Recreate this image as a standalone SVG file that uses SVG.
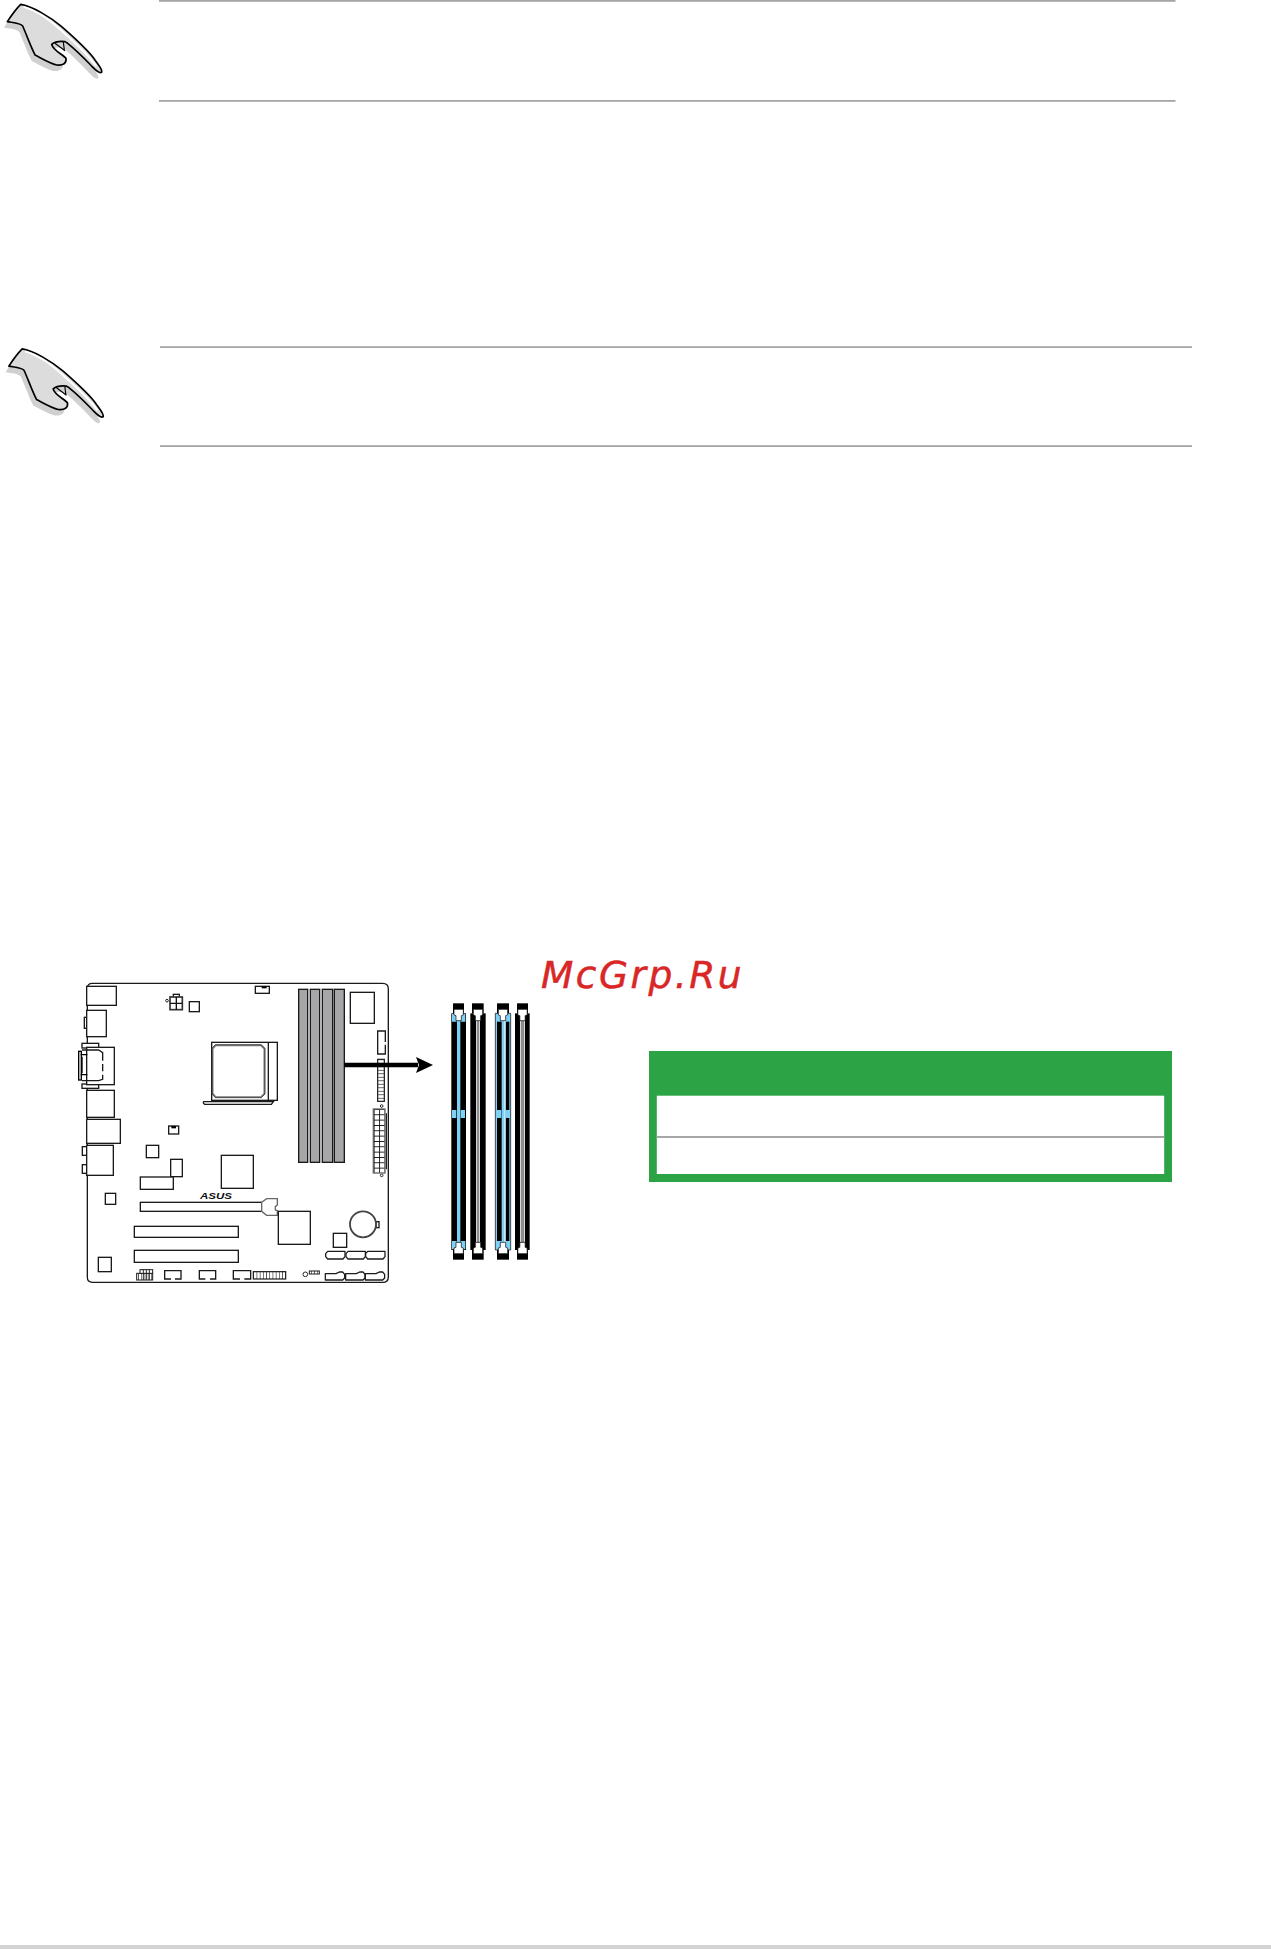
<svg xmlns="http://www.w3.org/2000/svg" xmlns:xlink="http://www.w3.org/1999/xlink" width="1271" height="1949" viewBox="0 0 1271 1949">
<style>
.rule{fill:#a6a6a8}
.p{fill:#fff;stroke:#1a1a1a;stroke-width:4}
.n{fill:none;stroke:#1a1a1a;stroke-width:4}
.thin{fill:none;stroke:#1a1a1a;stroke-width:2.8}
.g{fill:#a6a6a8;stroke:#1a1a1a;stroke-width:4}
.b{fill:#000}
.blue{fill:#7fd0f5}
.grey{fill:#8c8c8c}
.w{fill:#fff}
.hs{fill:#d0d0d0}
.hf{fill:#dcdcdc;stroke:#000;stroke-width:5;stroke-linejoin:round}
.hl{fill:none;stroke:#000;stroke-width:3.5}
.hw{fill:none;stroke:#fff;stroke-width:6}
.sata{fill:#fff;stroke:#1a1a1a;stroke-width:3.8;stroke-linejoin:round}
</style>
<defs>
<path id="handp" d="M22 65C35 45 50 25 62 13C95 18 150 50 185 80C225 115 265 150 285 180C297 197 308 208 305 217C297 222 285 208 272 195C250 172 228 150 203 130L195 125C180 123 165 125 155 133C158 150 190 165 198 175C200 190 190 197 170 195C150 190 125 175 105 165C90 135 80 105 68 78C60 68 40 68 22 65Z"/>
<g id="hand" transform="scale(.3333)">
<use xlink:href="#handp" href="#handp" class="hs" transform="translate(-10 18)"/>
<use xlink:href="#handp" href="#handp" class="hf"/>
<path class="hw" d="M70 20C110 32 150 60 185 92C225 128 262 160 288 198"/>
<path class="hl" d="M165 130L195 152M190 126L193 150"/>
</g>
<pattern id="ladV" width="20" height="10.5" patternUnits="userSpaceOnUse" y="298">
<rect width="20" height="10.5" fill="#fff"/><path d="M0 0H20" stroke="#1a1a1a" stroke-width="4"/>
</pattern>
<pattern id="ladH" width="9.6" height="30" patternUnits="userSpaceOnUse" x="580">
<rect width="9.6" height="30" fill="#fff"/><path d="M0 0V30" stroke="#1a1a1a" stroke-width="3.6"/>
</pattern>
<pattern id="atx" width="16.5" height="16" patternUnits="userSpaceOnUse" x="941" y="447">
<rect width="16.5" height="16" fill="#fff"/><path d="M0 0H16.5M0 0V16" stroke="#111" stroke-width="5.5"/>
</pattern>
<g id="clip"><path d="M-14 18H14V35L8 37V52H-8V37L-14 35Z" fill="#fff" stroke="#000" stroke-width="2"/></g>
<g id="sataA"><path class="sata" d="M6 0H58V16L52 23H6L0 16V7Z"/></g>
<g id="sataB"><path class="sata" d="M0 5H32L42 0H52L58 7V18L52 24H0Z"/></g>
</defs>

<rect id="footer-band" x="0" y="1945" width="1271" height="4" fill="#d4d4d4"/>

<g id="note-1">
<use xlink:href="#hand" href="#hand"/>
<rect class="rule" x="159" y="0" width="1016.500" height="1.800"/>
<rect class="rule" x="159" y="100" width="1016.500" height="1.800"/>
</g>
<g id="note-2">
<use xlink:href="#hand" href="#hand" transform="translate(1.500 344.500)"/>
<rect class="rule" x="160" y="346.200" width="1032" height="1.800"/>
<rect class="rule" x="160" y="445.200" width="1032" height="1.800"/>
</g>

<g id="motherboard" transform="translate(60 960) scale(.33333)">
<path class="n" d="M97 70H968Q985 70 985 87V950Q985 967 968 967H97Q82 967 82 952V85Q82 70 97 70Z" fill="#fff"/>
<g id="io-ports">
<rect class="p" x="80" y="79" width="89" height="57"/>
<rect class="p" x="73" y="172" width="8" height="33"/>
<rect class="p" x="80" y="151" width="59" height="79"/>
<rect class="p" x="66" y="250" width="50" height="14"/>
<rect class="p" x="66" y="372" width="50" height="13"/>
<rect class="p" x="80" y="262" width="83" height="112"/>
<path class="n" d="M66 270H116L128 278V302M128 312V334M128 344V358L116 362H66"/>
<rect x="56" y="274" width="8" height="86" fill="#fff" stroke="#000" stroke-width="4"/>
<path d="M62 284H82M62 344H82M66 290V340" fill="none" stroke="#000" stroke-width="4"/>
<rect class="p" x="80" y="391" width="83" height="81"/>
<rect class="p" x="80" y="478" width="101" height="72"/>
<rect class="p" x="67" y="560" width="14" height="26"/>
<rect class="p" x="67" y="614" width="14" height="26"/>
<rect class="p" x="80" y="556" width="80" height="90"/>
</g>
<g id="top-parts">
<rect class="p" x="586" y="79" width="42" height="21"/>
<rect class="b" x="605" y="79" width="15" height="6"/>
<circle class="thin" cx="321" cy="122" r="4"/>
<rect class="p" x="340" y="103" width="18" height="10"/>
<rect x="330" y="111" width="37" height="38" fill="#fff" stroke="#333" stroke-width="5"/>
<path d="M349 111V149M330 130H367" stroke="#111" stroke-width="4"/>
<rect class="p" x="388" y="125" width="30" height="30"/>
</g>
<g id="cpu-socket">
<path class="p" d="M431 425H640L634 433H434Q428 429 431 425Z"/>
<rect class="p" x="455" y="247" width="197" height="174"/>
<path class="n" d="M625 247V421"/>
<path d="M467 256H603L613 266V401L603 411H467L458 401V266Z" fill="#fff" stroke="#777" stroke-width="5"/>
<path d="M466 254H604L615 265V402L604 413H466L456 402V265Z" fill="none" stroke="#111" stroke-width="1.800"/>
</g>
<g id="dimm-slots">
<rect class="g" x="716" y="88" width="27" height="519"/>
<rect class="g" x="751" y="88" width="28" height="519"/>
<rect class="g" x="787" y="88" width="31" height="519"/>
<rect class="g" x="823" y="88" width="30" height="519"/>
</g>
<g id="right-parts">
<rect class="p" x="871" y="97" width="72" height="93"/>
<path class="n" d="M976 246V213H953V282H976V254"/>
<rect x="953" y="298" width="20" height="126" fill="url(#ladV)" stroke="#1a1a1a" stroke-width="3.600"/>
<circle class="thin" cx="965" cy="438" r="4"/>
<circle class="thin" cx="965" cy="646" r="4"/>
<path d="M979 460V628" stroke="#222" stroke-width="4"/>
<rect x="940" y="447" width="35" height="192" fill="url(#atx)" stroke="#666" stroke-width="4"/>
</g>
<g id="mid-parts">
<rect class="p" x="326" y="498" width="30" height="24"/>
<rect class="b" x="334" y="498" width="14" height="7"/>
<rect class="p" x="259" y="556" width="37" height="37"/>
<rect class="p" x="332" y="598" width="35" height="52"/>
<rect class="p" x="241" y="651" width="99" height="37"/>
<rect class="p" x="484" y="586" width="96" height="99"/>
<rect class="p" x="136" y="700" width="31" height="33"/>
</g>
<text id="logo" x="420" y="717" font-family="'Liberation Sans',Arial,sans-serif" font-size="27" font-weight="700" font-style="italic" textLength="96" lengthAdjust="spacingAndGlyphs" fill="#111">ASUS</text>
<g id="expansion-slots">
<rect class="p" x="241" y="727" width="364" height="27"/>
<path d="M605 727L620 716H652V735L646 740V750L652 752V766H620L605 754Z" fill="#fff" stroke="#666" stroke-width="4"/>
<rect class="p" x="223" y="799" width="312" height="33"/>
<rect class="p" x="223" y="871" width="312" height="36"/>
</g>
<g id="lower-parts">
<rect class="p" x="655" y="754" width="96" height="99"/>
<rect class="p" x="948" y="785" width="9" height="18"/>
<circle cx="909" cy="793" r="39" fill="#fff" stroke="#444" stroke-width="5.500"/>
<rect class="p" x="820" y="820" width="40" height="42"/>
<rect class="p" x="115" y="892" width="39" height="43"/>
</g>
<g id="sata-ports">
<use xlink:href="#sataA" href="#sataA" transform="translate(797 874)"/>
<use xlink:href="#sataA" href="#sataA" transform="translate(858 874)"/>
<use xlink:href="#sataA" href="#sataA" transform="translate(917 874)"/>
<use xlink:href="#sataB" href="#sataB" transform="translate(796 936)"/>
<use xlink:href="#sataB" href="#sataB" transform="translate(857 936)"/>
<use xlink:href="#sataB" href="#sataB" transform="translate(916 936)"/>
</g>
<g id="headers">
<rect x="230" y="940" width="48" height="20" fill="url(#ladH)" stroke="#1a1a1a" stroke-width="3"/>
<rect x="240" y="929" width="38" height="11" fill="#fff" stroke="#1a1a1a" stroke-width="3"/>
<path class="thin" d="M250 929V960M259 929V960M268 929V960"/>
<path class="n" d="M333 957H314V932H363V957H345"/>
<path class="n" d="M436 957H418V932H467V957H450"/>
<path class="n" d="M540 957H520V932H572V957H553"/>
<rect x="580" y="935" width="97" height="22" fill="url(#ladH)" stroke="#1a1a1a" stroke-width="3.600"/>
<circle class="thin" cx="736" cy="943" r="7"/>
<rect x="748" y="933" width="30" height="9" fill="url(#ladH)" stroke="#1a1a1a" stroke-width="3"/>
</g>
</g>

<g id="connectors">
<path d="M344 1065H418" stroke="#000" stroke-width="4.400"/>
<path d="M416 1057L433 1065L416 1073L419 1065Z" fill="#000"/>
</g>

<g id="dimm-detail" transform="translate(420 950) scale(.33333)">
<g id="stick-a1">
<rect class="b" x="99" y="160" width="33" height="30"/>
<rect class="b" x="94" y="190" width="44" height="710"/>
<rect class="b" x="99" y="900" width="33" height="29"/>
<rect class="blue" x="111" y="212" width="10" height="664"/>
<path class="blue" d="M96 192H110V215H96ZM122 192H136V215H122ZM96 873H110V898H96ZM122 873H136V898H122ZM96 480H109V504H96ZM122 480H135V504H122Z"/>
<use xlink:href="#clip" href="#clip" transform="translate(116 160)"/>
<use xlink:href="#clip" href="#clip" transform="translate(116 929) scale(1 -1)"/>
</g>
<g id="stick-a2">
<rect class="b" x="156" y="160" width="35" height="30"/>
<rect class="b" x="151" y="190" width="46" height="710"/>
<rect class="b" x="156" y="900" width="35" height="29"/>
<rect class="w" x="168.500" y="212" width="11.500" height="664"/>
<rect class="grey" x="171" y="212" width="7" height="664"/>
<use xlink:href="#clip" href="#clip" transform="translate(174 160)"/>
<use xlink:href="#clip" href="#clip" transform="translate(174 929) scale(1 -1)"/>
</g>
<g id="stick-b1">
<rect class="b" x="231" y="160" width="36" height="30"/>
<rect class="blue" x="226" y="190" width="46" height="710"/>
<rect class="b" x="231" y="900" width="36" height="29"/>
<rect class="b" x="231" y="215" width="14" height="658"/>
<rect class="b" x="257" y="215" width="11" height="658"/>
<rect class="w" x="253.500" y="212" width="3" height="664"/>
<path class="blue" d="M229 480H244V504H229ZM256 480H270V504H256Z"/>
<path d="M226 190H272V900H226Z" fill="none" stroke="#000" stroke-width="2"/>
<use xlink:href="#clip" href="#clip" transform="translate(249 160)"/>
<use xlink:href="#clip" href="#clip" transform="translate(249 929) scale(1 -1)"/>
</g>
<g id="stick-b2">
<rect class="b" x="291" y="160" width="33" height="30"/>
<rect class="b" x="285" y="190" width="44" height="710"/>
<rect class="b" x="291" y="900" width="33" height="29"/>
<rect class="w" x="300" y="212" width="15" height="664"/>
<rect class="grey" x="302" y="212" width="11" height="664"/>
<use xlink:href="#clip" href="#clip" transform="translate(307.500 160)"/>
<use xlink:href="#clip" href="#clip" transform="translate(307.500 929) scale(1 -1)"/>
</g>
</g>

<g id="table">
<rect x="649" y="1051" width="523" height="131" fill="#2ca345"/>
<rect x="656.800" y="1095.700" width="507.400" height="78.300" fill="#fff"/>
<rect x="656.800" y="1136" width="507.400" height="2" fill="#a6a6a8"/>
</g>

<text id="watermark" x="541" y="988" font-family="'DejaVu Sans',sans-serif" font-style="oblique" font-size="37.500" letter-spacing="2.500" fill="#d92626" stroke="#d92626" stroke-width=".5">McGrp.Ru</text>
</svg>
